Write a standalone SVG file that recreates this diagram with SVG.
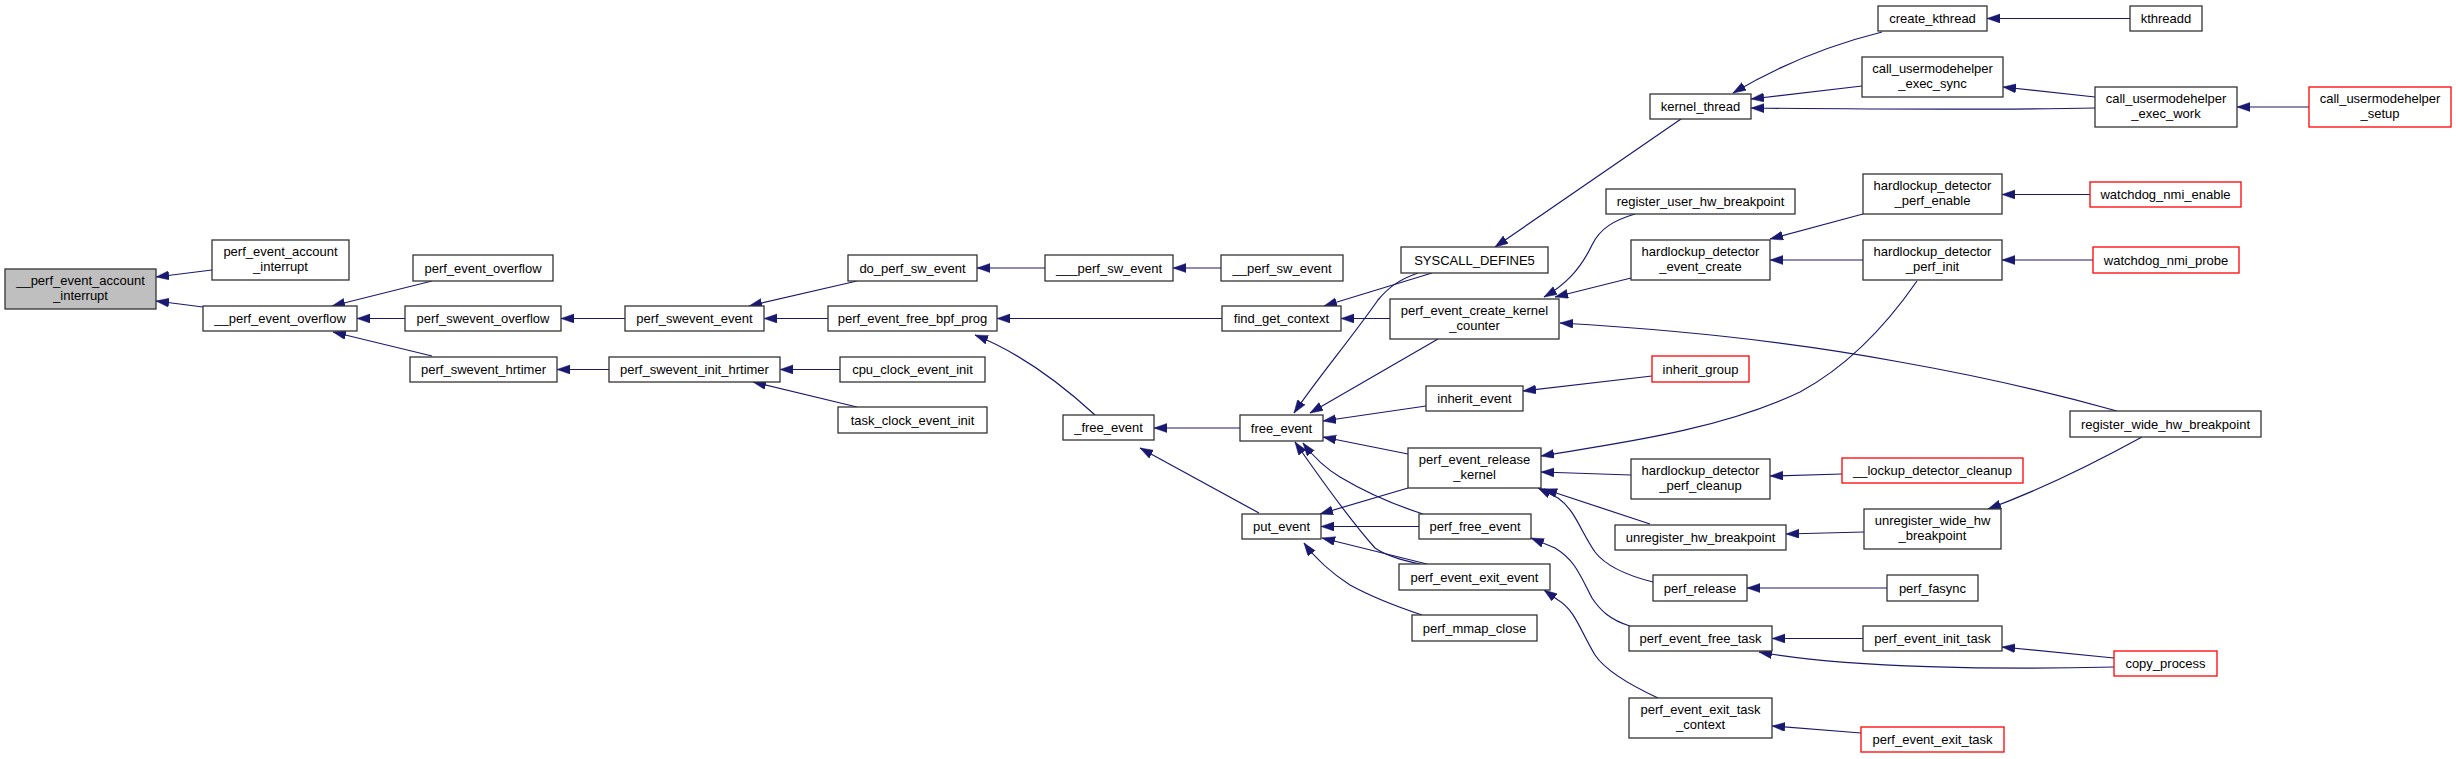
<svg xmlns="http://www.w3.org/2000/svg" width="2456" height="759" viewBox="0 0 2456 759">
<style>
.n rect{fill:#ffffff;stroke:#333333;stroke-width:1.3}
.n.r rect{stroke:#ff0000}
.n.g rect{fill:#bfbfbf}
.n text{font-family:"Liberation Sans",Arial,sans-serif;font-size:13px;fill:#000000;text-anchor:middle}
.e path{fill:none;stroke:#191970;stroke-width:1.2;marker-end:url(#ah)}
</style>
<defs>
<marker id="ah" markerUnits="userSpaceOnUse" markerWidth="14" markerHeight="10" refX="13" refY="4.5" orient="auto">
<path d="M0,0 L13,4.5 L0,9 z" fill="#191970" stroke="#191970" stroke-width="0.5"/>
</marker>
</defs>
<rect width="2456" height="759" fill="#ffffff"/>
<g id="connectors" class="e">
<path d="M212,270 L156,277"/>
<path d="M203,307 L156,301"/>
<path d="M432,281 L332,306"/>
<path d="M405,318.5 L357,318.5"/>
<path d="M432,356 L333,332"/>
<path d="M625,318.5 L561,318.5"/>
<path d="M609,369.5 L557,369.5"/>
<path d="M857,281 L749,306"/>
<path d="M828,318.5 L764,318.5"/>
<path d="M840,369.5 L780,369.5"/>
<path d="M857,407 L753,382"/>
<path d="M1045,268 L977,268"/>
<path d="M1221,268 L1173,268"/>
<path d="M1222,318.5 L997,318.5"/>
<path d="M1095,415 C1070,392 1025,355 975,335"/>
<path d="M1240,428 L1154,428"/>
<path d="M1259,513 L1140,448"/>
<path d="M1432,273 L1324,306"/>
<path d="M1390,318.5 L1341,318.5"/>
<path d="M1418,273 C1398,280 1388,288 1378,300 C1350,340 1320,375 1294,413"/>
<path d="M1438,339 L1310,413"/>
<path d="M1426,406 L1323,421"/>
<path d="M1408,454 L1323,437"/>
<path d="M1423,514 C1395,505 1365,492 1340,477 C1325,468 1312,455 1303,443"/>
<path d="M1420,564 C1400,560 1385,555 1375,548 C1350,520 1320,478 1295,442"/>
<path d="M1408,488 L1320,514"/>
<path d="M1419,526.5 L1321,526.5"/>
<path d="M1427,564 L1322,538"/>
<path d="M1422,615 C1395,606 1370,596 1350,585 C1330,572 1315,558 1304,543"/>
<path d="M1681,119 L1495,247"/>
<path d="M1635,214 C1615,220 1600,228 1592,245 C1580,270 1565,285 1544,297"/>
<path d="M1631,278 L1555,297"/>
<path d="M2117,411 C2060,395 1990,378 1900,362 C1800,343 1680,330 1560,323"/>
<path d="M1652,376 L1523,391"/>
<path d="M1917,281 C1890,320 1850,365 1800,392 C1720,430 1620,443 1541,456"/>
<path d="M1631,475 L1541,472"/>
<path d="M1650,524 L1544,489"/>
<path d="M1653,582 C1625,575 1605,565 1595,552 C1580,530 1575,510 1558,498 L1538,488"/>
<path d="M1630,626 C1610,620 1600,610 1592,598 C1580,575 1575,560 1555,548 L1531,538"/>
<path d="M1658,698 C1630,685 1605,670 1595,655 C1580,630 1575,610 1558,600 L1544,590"/>
<path d="M1882,32 C1830,45 1780,65 1733,93"/>
<path d="M1862,86 L1751,99"/>
<path d="M2095,108 C2040,109 1900,109.5 1751,108"/>
<path d="M1863,214 L1770,239"/>
<path d="M1863,260 L1770,260"/>
<path d="M1842,474 L1770,476"/>
<path d="M1864,532 L1786,534"/>
<path d="M1887,588 L1747,588"/>
<path d="M1863,638.5 L1772,638.5"/>
<path d="M2114,667 C2000,670 1850,668 1759,652"/>
<path d="M1861,733 L1772,726"/>
<path d="M2130,18.5 L1987,18.5"/>
<path d="M2095,97 L2003,87"/>
<path d="M2309,107 L2237,107"/>
<path d="M2090,194.5 L2002,194.5"/>
<path d="M2093,260 L2002,260"/>
<path d="M2142,437 C2100,460 2040,490 1988,509"/>
<path d="M2114,658 L2002,647"/>
</g>
<g id="n1" class="n g"><rect x="5" y="269" width="151" height="40"/><text x="80.5" y="285">__perf_event_account</text><text x="80.5" y="300">_interrupt</text></g>
<g id="n2" class="n"><rect x="212" y="240" width="137" height="40"/><text x="280.5" y="256">perf_event_account</text><text x="280.5" y="271">_interrupt</text></g>
<g id="n3" class="n"><rect x="203" y="306" width="154" height="25"/><text x="280" y="323">__perf_event_overflow</text></g>
<g id="n4" class="n"><rect x="413" y="255" width="140" height="26"/><text x="483" y="272.5">perf_event_overflow</text></g>
<g id="n5" class="n"><rect x="405" y="306" width="156" height="25"/><text x="483" y="323">perf_swevent_overflow</text></g>
<g id="n6" class="n"><rect x="410" y="357" width="147" height="25"/><text x="483.5" y="374">perf_swevent_hrtimer</text></g>
<g id="n7" class="n"><rect x="625" y="306" width="139" height="25"/><text x="694.5" y="323">perf_swevent_event</text></g>
<g id="n8" class="n"><rect x="609" y="357" width="171" height="25"/><text x="694.5" y="374">perf_swevent_init_hrtimer</text></g>
<g id="n9" class="n"><rect x="848" y="255" width="129" height="26"/><text x="912.5" y="272.5">do_perf_sw_event</text></g>
<g id="n10" class="n"><rect x="1045" y="255" width="128" height="26"/><text x="1109" y="272.5">___perf_sw_event</text></g>
<g id="n11" class="n"><rect x="828" y="306" width="169" height="25"/><text x="912.5" y="323">perf_event_free_bpf_prog</text></g>
<g id="n12" class="n"><rect x="840" y="357" width="145" height="25"/><text x="912.5" y="374">cpu_clock_event_init</text></g>
<g id="n13" class="n"><rect x="838" y="407" width="149" height="26"/><text x="912.5" y="424.5">task_clock_event_init</text></g>
<g id="n14" class="n"><rect x="1063" y="415" width="91" height="25"/><text x="1108.5" y="432">_free_event</text></g>
<g id="n15" class="n"><rect x="1221" y="255" width="122" height="26"/><text x="1282" y="272.5">__perf_sw_event</text></g>
<g id="n16" class="n"><rect x="1222" y="306" width="119" height="25"/><text x="1281.5" y="323">find_get_context</text></g>
<g id="n17" class="n"><rect x="1401" y="247" width="147" height="26"/><text x="1474.5" y="264.5">SYSCALL_DEFINE5</text></g>
<g id="n18" class="n"><rect x="1390" y="299" width="169" height="40"/><text x="1474.5" y="315">perf_event_create_kernel</text><text x="1474.5" y="330">_counter</text></g>
<g id="n19" class="n"><rect x="1426" y="386" width="97" height="25"/><text x="1474.5" y="403">inherit_event</text></g>
<g id="n20" class="n"><rect x="1240" y="415" width="83" height="26"/><text x="1281.5" y="432.5">free_event</text></g>
<g id="n21" class="n"><rect x="1408" y="448" width="133" height="40"/><text x="1474.5" y="464">perf_event_release</text><text x="1474.5" y="479">_kernel</text></g>
<g id="n22" class="n"><rect x="1242" y="514" width="79" height="25"/><text x="1281.5" y="531">put_event</text></g>
<g id="n23" class="n"><rect x="1419" y="514" width="112" height="25"/><text x="1475" y="531">perf_free_event</text></g>
<g id="n24" class="n"><rect x="1399" y="564" width="151" height="26"/><text x="1474.5" y="581.5">perf_event_exit_event</text></g>
<g id="n25" class="n"><rect x="1412" y="615" width="125" height="26"/><text x="1474.5" y="632.5">perf_mmap_close</text></g>
<g id="n26" class="n"><rect x="1878" y="6" width="109" height="25"/><text x="1932.5" y="23">create_kthread</text></g>
<g id="n27" class="n"><rect x="1862" y="57" width="141" height="40"/><text x="1932.5" y="73">call_usermodehelper</text><text x="1932.5" y="88">_exec_sync</text></g>
<g id="n28" class="n"><rect x="1650" y="94" width="101" height="25"/><text x="1700.5" y="111">kernel_thread</text></g>
<g id="n29" class="n"><rect x="1606" y="189" width="189" height="25"/><text x="1700.5" y="206">register_user_hw_breakpoint</text></g>
<g id="n30" class="n"><rect x="1863" y="174" width="139" height="40"/><text x="1932.5" y="190">hardlockup_detector</text><text x="1932.5" y="205">_perf_enable</text></g>
<g id="n31" class="n"><rect x="1631" y="240" width="139" height="40"/><text x="1700.5" y="256">hardlockup_detector</text><text x="1700.5" y="271">_event_create</text></g>
<g id="n32" class="n"><rect x="1863" y="240" width="139" height="40"/><text x="1932.5" y="256">hardlockup_detector</text><text x="1932.5" y="271">_perf_init</text></g>
<g id="n33" class="n r"><rect x="1652" y="356" width="97" height="26"/><text x="1700.5" y="373.5">inherit_group</text></g>
<g id="n34" class="n"><rect x="1631" y="459" width="139" height="40"/><text x="1700.5" y="475">hardlockup_detector</text><text x="1700.5" y="490">_perf_cleanup</text></g>
<g id="n35" class="n r"><rect x="1842" y="458" width="181" height="25"/><text x="1932.5" y="475">__lockup_detector_cleanup</text></g>
<g id="n36" class="n"><rect x="1615" y="525" width="171" height="25"/><text x="1700.5" y="542">unregister_hw_breakpoint</text></g>
<g id="n37" class="n"><rect x="1864" y="509" width="137" height="40"/><text x="1932.5" y="525">unregister_wide_hw</text><text x="1932.5" y="540">_breakpoint</text></g>
<g id="n38" class="n"><rect x="1653" y="575" width="94" height="26"/><text x="1700" y="592.5">perf_release</text></g>
<g id="n39" class="n"><rect x="1887" y="575" width="91" height="26"/><text x="1932.5" y="592.5">perf_fasync</text></g>
<g id="n40" class="n"><rect x="1629" y="626" width="143" height="25"/><text x="1700.5" y="643">perf_event_free_task</text></g>
<g id="n41" class="n"><rect x="1863" y="626" width="139" height="25"/><text x="1932.5" y="643">perf_event_init_task</text></g>
<g id="n42" class="n"><rect x="1629" y="698" width="143" height="40"/><text x="1700.5" y="714">perf_event_exit_task</text><text x="1700.5" y="729">_context</text></g>
<g id="n43" class="n r"><rect x="1861" y="727" width="143" height="25"/><text x="1932.5" y="744">perf_event_exit_task</text></g>
<g id="n44" class="n"><rect x="2130" y="6" width="72" height="25"/><text x="2166" y="23">kthreadd</text></g>
<g id="n45" class="n"><rect x="2095" y="87" width="142" height="40"/><text x="2166" y="103">call_usermodehelper</text><text x="2166" y="118">_exec_work</text></g>
<g id="n46" class="n r"><rect x="2309" y="87" width="142" height="40"/><text x="2380" y="103">call_usermodehelper</text><text x="2380" y="118">_setup</text></g>
<g id="n47" class="n r"><rect x="2090" y="182" width="151" height="25"/><text x="2165.5" y="199">watchdog_nmi_enable</text></g>
<g id="n48" class="n r"><rect x="2093" y="247" width="146" height="26"/><text x="2166" y="264.5">watchdog_nmi_probe</text></g>
<g id="n49" class="n"><rect x="2070" y="411" width="191" height="26"/><text x="2165.5" y="428.5">register_wide_hw_breakpoint</text></g>
<g id="n50" class="n r"><rect x="2114" y="651" width="103" height="25"/><text x="2165.5" y="668">copy_process</text></g>
</svg>
